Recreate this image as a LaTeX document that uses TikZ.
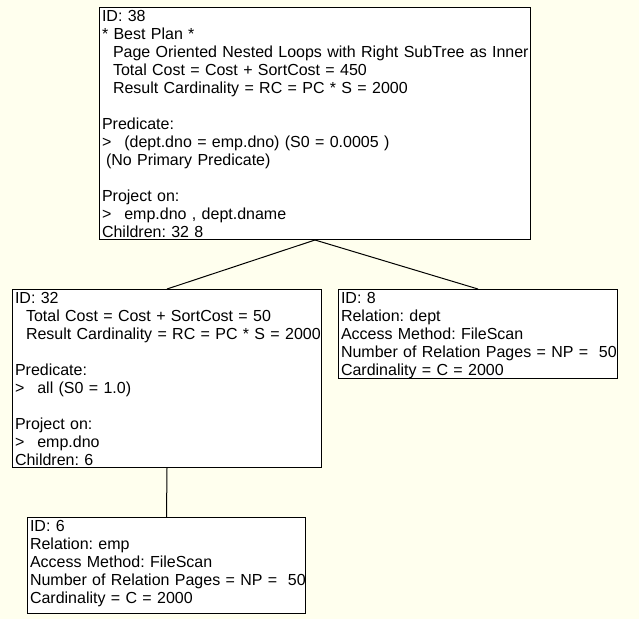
\documentclass[tikz,border=0pt]{standalone}
\usepackage{fontspec}
\setmainfont{Liberation Sans}
\usepackage{tikz}
\usetikzlibrary{positioning}

\definecolor{paper}{HTML}{FFFFEE}
\newcommand{\ind}{\hspace*{11pt}}
\newcommand{\prompt}{>\hspace*{13pt}}
\newcommand{\row}[1]{\mbox{#1}}
\newcommand{\topstrut}{\rule{0pt}{13.5pt}}
\newcommand{\botstrut}{\rule[-2.5pt]{0pt}{2.5pt}}
\frenchspacing

\begin{document}
\begin{tikzpicture}[x=1pt,y=-1pt]
		% Define node styles
		\tikzstyle{plan} = [rectangle, draw, fill=white, line width=1pt, anchor=north west, align=left, inner xsep=2.5pt, inner ysep=0pt, font=\fontsize{16}{18}\selectfont\frenchspacing, execute at begin node=\topstrut, execute at end node=\botstrut];
		\tikzstyle{link} = [line width=1pt];
		
		% Canvas
		\fill[paper] (0,0) rectangle (639,619);
		\useasboundingbox (0,0) rectangle (639,619);
		
		% Root: join of dept and emp
		\node[plan, text width=426pt] (n38) at (99,7) {ID: 38\\
			\relax* Best Plan *\\
			\ind\row{Page Oriented Nested Loops with Right SubTree as Inner}\\
			\ind Total Cost = Cost + SortCost = 450\\
			\ind Result Cardinality = RC = PC * S = 2000\\
			\strut\\
			Predicate:\\
			\prompt(dept.dno = emp.dno) (S0 = 0.0005 )\\
			\hspace*{4pt}(No Primary Predicate)\\
			\strut\\
			Project on:\\
			\prompt emp.dno , dept.dname\\
			Children: 32 8};
		
		% Second level
		\node[plan, text width=304pt] (n32) at (12,289) {ID: 32\\
			\ind Total Cost = Cost + SortCost = 50\\
			\ind\row{Result Cardinality = RC = PC * S = 2000}\\
			\strut\\
			Predicate:\\
			\prompt all (S0 = 1.0)\\
			\strut\\
			Project on:\\
			\prompt emp.dno\\
			Children: 6};
		\node[plan, text width=274pt] (n8) at (338,289) {ID: 8\\
			Relation: dept\\
			Access Method: FileScan\\
			\row{Number of Relation Pages = NP = \ 50}\\
			Cardinality = C = 2000};
		
		% Leaf under 32
		\node[plan, text width=273pt, text depth=82.5pt] (n6) at (27,517) {ID: 6\\
			Relation: emp\\
			Access Method: FileScan\\
			\row{Number of Relation Pages = NP = \ 50}\\
			Cardinality = C = 2000};
		
		% Tree edges
		\draw[link] (n38.south) -- (n32.north);
		\draw[link] (n38.south) -- (n8.north);
		\draw[link] (n32.south) -- (n6.north);
	\end{tikzpicture}
\end{document}
